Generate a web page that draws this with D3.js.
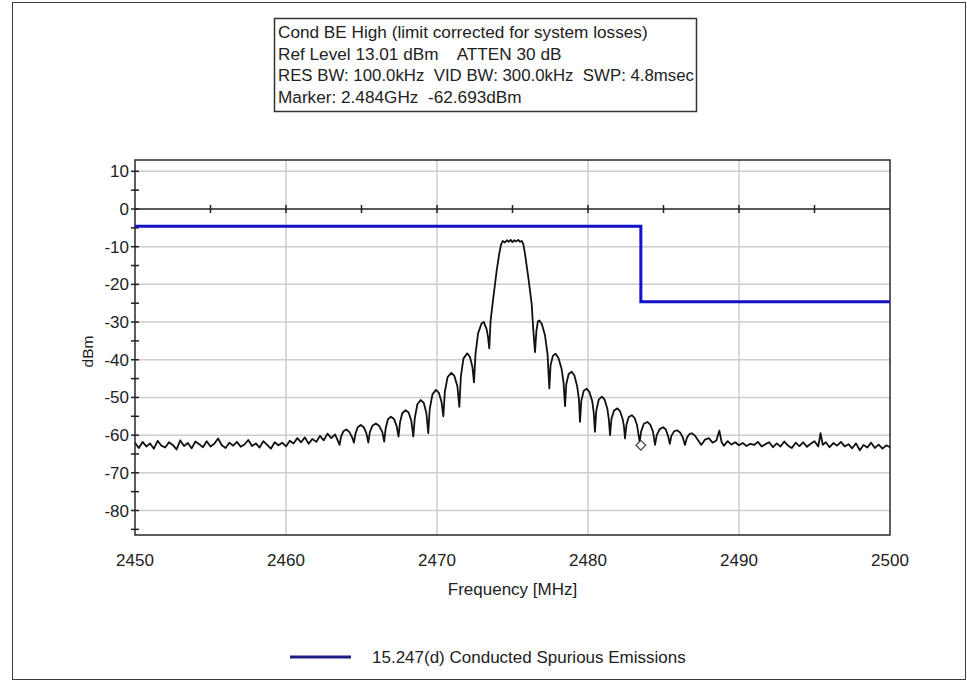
<!DOCTYPE html>
<html>
<head>
<meta charset="utf-8">
<script src="https://cdn.jsdelivr.net/npm/d3@7/dist/d3.min.js"></script>
<style>
  html, body { margin: 0; padding: 0; background: #fff; }
  svg { display: block; font-family: "Liberation Sans", Arial, sans-serif; }
</style>
</head>
<body>
<svg id="chart" width="967" height="685"></svg>
<script>
// Header block text
const infoLines = [
  "Cond BE High (limit corrected for system losses)",
  "Ref Level 13.01 dBm    ATTEN 30 dB",
  "RES BW: 100.0kHz  VID BW: 300.0kHz  SWP: 4.8msec",
  "Marker: 2.484GHz  -62.693dBm"
];

// Axis ticks
const xTicks = [2450, 2460, 2470, 2480, 2490, 2500];
const xMinorTicks = [2455, 2460, 2465, 2470, 2475, 2480, 2485, 2490, 2495];
const yTicks = [10, 0, -10, -20, -30, -40, -50, -60, -70, -80];
const yMinorTicks = [10, 5, 0, -5, -10, -15, -20, -25, -30, -35, -40, -45, -50, -55, -60, -65, -70, -75, -80, -85];

// Limit line: 15.247(d) conducted spurious emissions
const limitFreq = [2450, 2483.5, 2483.5, 2500];
const limitLevel = [-4.6, -4.6, -24.6, -24.6];
const limitName = "15.247(d) Conducted Spurious Emissions";

// Marker
const markerFreq = 2483.5;
const markerLevel = -62.693;

// Measured trace [MHz, dBm] — lower noise floor
const traceLowFloor = [
  [2450,-62.0],[2450.25,-63.4],[2450.5,-61.8],[2450.75,-63.0],[2451,-62.2],[2451.25,-63.6],
  [2451.5,-61.5],[2451.75,-62.8],[2452,-63.3],[2452.25,-61.9],[2452.5,-62.6],[2452.75,-63.8],
  [2453,-61.4],[2453.25,-62.9],[2453.5,-62.1],[2453.75,-63.5],[2454,-61.7],[2454.25,-62.4],
  [2454.5,-63.2],[2454.75,-61.6],[2455,-63.0],[2455.25,-62.3],[2455.5,-60.9],[2455.75,-62.7],
  [2456,-63.4],[2456.25,-62.0],[2456.5,-62.8],[2456.75,-61.8],[2457,-63.1],[2457.25,-62.5],
  [2457.5,-61.3],[2457.75,-62.9],[2458,-62.2],[2458.25,-63.3],[2458.5,-61.6],[2458.75,-62.6],
  [2459,-63.6],[2459.25,-61.9],[2459.5,-62.7],[2459.75,-62.0],[2460,-63.0],[2460.25,-61.5],
  [2460.5,-62.2],[2460.75,-60.8],[2461,-61.9],[2461.25,-60.6],[2461.5,-62.3],[2461.75,-61.0],
  [2462,-61.8],[2462.25,-60.2],[2462.5,-61.4],[2462.75,-59.6],[2463,-60.8],[2463.25,-59.8]
];

// Lower sidelobes
const traceLowLobes = [
  [2463.55,-62.6],
  [2463.65,-60.3],[2463.8,-59.0],[2464.0,-58.5],[2464.2,-59.2],[2464.38,-60.6],[2464.5,-62.0],
  [2464.6,-59.6],[2464.75,-57.9],[2464.95,-57.3],[2465.15,-57.9],[2465.33,-59.6],[2465.45,-62.0],
  [2465.55,-59.3],[2465.72,-57.5],[2465.95,-56.9],[2466.18,-57.6],[2466.38,-59.2],[2466.5,-61.7],
  [2466.6,-58.2],[2466.75,-55.8],[2466.95,-55.1],[2467.15,-55.7],[2467.33,-57.6],[2467.45,-60.4],
  [2467.55,-56.6],[2467.7,-54.2],[2467.92,-53.4],[2468.12,-54.0],[2468.3,-56.2],[2468.43,-60.4],
  [2468.53,-55.5],[2468.7,-51.8],[2468.92,-50.7],[2469.12,-51.4],[2469.3,-54.2],[2469.42,-59.5],
  [2469.52,-53.0],[2469.7,-49.2],[2469.93,-48.0],[2470.12,-48.7],[2470.3,-51.2],[2470.42,-55.0],
  [2470.52,-48.5],[2470.7,-44.6],[2470.95,-43.5],[2471.15,-44.3],[2471.35,-47.0],[2471.48,-52.5],
  [2471.58,-44.5],[2471.75,-39.7],[2472.0,-38.3],[2472.18,-39.2],[2472.35,-42.0],[2472.45,-46.0],
  [2472.55,-38.5],[2472.72,-33.0],[2472.95,-30.4],[2473.1,-30.0],[2473.28,-31.8],[2473.38,-34.0],[2473.46,-37.0]
];

// Main lobe
const traceMainLobe = [
  [2473.55,-29.6],[2473.73,-23.5],[2473.95,-16.4],[2474.12,-11.9],[2474.25,-9.3],[2474.35,-8.5],
  [2474.5,-8.9],[2474.62,-8.3],[2474.75,-8.7],[2474.88,-8.2],[2475.0,-8.8],[2475.12,-8.3],
  [2475.25,-8.6],[2475.38,-8.2],[2475.5,-8.7],[2475.62,-8.5],[2475.72,-9.4],[2475.83,-12.0],
  [2476.05,-18.2],[2476.27,-25.2],[2476.38,-32.2],[2476.49,-38.0]
];

// Upper sidelobes
const traceHighLobes = [
  [2476.58,-32.5],[2476.68,-29.8],[2476.78,-29.6],[2476.95,-30.6],[2477.15,-33.5],[2477.32,-38.5],[2477.44,-47.6],
  [2477.52,-41.5],[2477.68,-38.9],[2477.85,-38.4],[2478.05,-39.6],[2478.25,-42.4],[2478.38,-46.0],[2478.48,-52.3],
  [2478.56,-46.5],[2478.72,-43.8],[2478.92,-43.2],[2479.1,-44.2],[2479.28,-47.0],[2479.4,-50.5],[2479.47,-56.5],
  [2479.56,-50.8],[2479.72,-48.2],[2479.92,-47.7],[2480.1,-48.6],[2480.28,-51.0],[2480.38,-54.0],[2480.46,-59.1],
  [2480.55,-53.5],[2480.72,-50.5],[2480.92,-49.8],[2481.1,-50.6],[2481.28,-53.0],[2481.38,-55.8],[2481.46,-60.0],
  [2481.55,-55.8],[2481.72,-53.5],[2481.95,-52.9],[2482.12,-53.6],[2482.3,-55.8],[2482.38,-57.6],[2482.45,-60.9],
  [2482.55,-57.2],[2482.7,-55.2],[2482.9,-54.7],[2483.08,-55.4],[2483.25,-57.4],[2483.42,-61.8],
  [2483.52,-59.0],[2483.7,-57.0],[2483.93,-56.5],[2484.12,-57.2],[2484.3,-59.0],[2484.44,-62.6],
  [2484.55,-60.0],[2484.75,-58.4],[2484.98,-57.9],[2485.15,-58.5],[2485.3,-60.2],[2485.42,-62.3],
  [2485.52,-60.2],[2485.7,-59.0],[2485.9,-58.7],[2486.1,-59.3],[2486.28,-60.6],[2486.42,-62.6],
  [2486.55,-60.7],[2486.72,-59.7],[2486.88,-59.5],[2487.1,-60.2],[2487.3,-61.4],[2487.5,-62.6]
];

// Upper noise floor
const traceHighFloor = [
  [2487.75,-61.2],[2488,-60.8],[2488.25,-62.0],[2488.5,-61.4],[2488.7,-58.8],[2488.85,-61.9],
  [2489,-62.8],[2489.25,-61.6],[2489.5,-62.5],[2489.75,-61.9],[2490,-62.7],[2490.25,-62.1],
  [2490.5,-62.9],[2490.75,-62.3],[2491,-62.6],[2491.25,-61.8],[2491.5,-63.0],[2491.75,-62.4],
  [2492,-61.9],[2492.25,-63.2],[2492.5,-62.2],[2492.75,-63.0],[2493,-61.7],[2493.25,-62.8],
  [2493.5,-63.4],[2493.75,-62.0],[2494,-62.9],[2494.25,-61.9],[2494.5,-63.1],[2494.75,-62.3],
  [2495,-61.6],[2495.25,-63.0],[2495.4,-59.5],[2495.55,-62.6],[2495.75,-61.9],[2496,-63.2],
  [2496.25,-62.1],[2496.5,-62.8],[2496.75,-61.8],[2497,-63.0],[2497.25,-62.4],[2497.5,-63.5],
  [2497.75,-62.2],[2498,-64.0],[2498.25,-62.6],[2498.5,-63.3],[2498.75,-62.0],[2499,-63.4],
  [2499.25,-62.5],[2499.5,-63.6],[2499.75,-62.7],[2500,-63.2]
];

const trace = [].concat(traceLowFloor, traceLowLobes, traceMainLobe, traceHighLobes, traceHighFloor);

const FONT = '"Liberation Sans", Arial, sans-serif';
const svg = d3.select("#chart");

// Outer frame
svg.append("rect")
  .attr("x", 12.5).attr("y", 2.5).attr("width", 953).attr("height", 677)
  .attr("fill", "#fff").attr("stroke", "#3a3a3a").attr("stroke-width", 1);

// Plot area
const plot = { left: 135, right: 890, top: 160, bottom: 535 };
const x = d3.scaleLinear().domain([2450, 2500]).range([plot.left, plot.right]);
const y = d3.scaleLinear().domain([-86.5, 13]).range([plot.bottom, plot.top]);

// Grid
const grid = svg.append("g");
grid.selectAll("line.gx").data(xTicks.slice(1, -1)).enter().append("line")
  .attr("x1", d => x(d)).attr("x2", d => x(d))
  .attr("y1", plot.top).attr("y2", plot.bottom)
  .attr("stroke", "#cdcdcd").attr("stroke-width", 1.5);
grid.selectAll("line.gy").data(yTicks.filter(d => d !== 0)).enter().append("line")
  .attr("x1", plot.left).attr("x2", plot.right)
  .attr("y1", d => y(d)).attr("y2", d => y(d))
  .attr("stroke", "#cdcdcd").attr("stroke-width", 1.5);

// Zero line with 5 MHz ticks
svg.append("line")
  .attr("x1", plot.left).attr("x2", plot.right)
  .attr("y1", y(0)).attr("y2", y(0))
  .attr("stroke", "#222").attr("stroke-width", 1.5);
svg.selectAll("line.zt").data(xMinorTicks).enter().append("line")
  .attr("x1", d => x(d)).attr("x2", d => x(d))
  .attr("y1", y(0) - 4).attr("y2", y(0) + 4)
  .attr("stroke", "#222").attr("stroke-width", 1.5);

// Plot border
svg.append("rect")
  .attr("x", plot.left).attr("y", plot.top)
  .attr("width", plot.right - plot.left).attr("height", plot.bottom - plot.top)
  .attr("fill", "none").attr("stroke", "#2a2a2a").attr("stroke-width", 1.5);

// Y axis ticks crossing the left edge
svg.selectAll("line.yt").data(yMinorTicks).enter().append("line")
  .attr("x1", plot.left - 4).attr("x2", plot.left + 4)
  .attr("y1", d => y(d)).attr("y2", d => y(d))
  .attr("stroke", "#222").attr("stroke-width", 1.5);

// Y tick labels
svg.selectAll("text.yl").data(yTicks).enter().append("text")
  .attr("x", plot.left - 6).attr("y", d => y(d) + 6)
  .attr("text-anchor", "end")
  .attr("font-family", FONT).attr("font-size", 17).attr("fill", "#222")
  .text(d => d);

// X tick labels
svg.selectAll("text.xl").data(xTicks).enter().append("text")
  .attr("x", d => x(d)).attr("y", 566)
  .attr("text-anchor", "middle")
  .attr("font-family", FONT).attr("font-size", 17).attr("fill", "#222")
  .text(d => d);

// Axis titles
svg.append("text")
  .attr("x", (plot.left + plot.right) / 2).attr("y", 595)
  .attr("text-anchor", "middle")
  .attr("font-family", FONT).attr("font-size", 17).attr("fill", "#222")
  .text("Frequency [MHz]");
svg.append("text")
  .attr("transform", `translate(93, ${(plot.top + plot.bottom) / 2 + 4}) rotate(-90)`)
  .attr("text-anchor", "middle")
  .attr("font-family", FONT).attr("font-size", 15.5).attr("fill", "#222")
  .text("dBm");

// Clip to plot area
svg.append("clipPath").attr("id", "plotClip").append("rect")
  .attr("x", plot.left).attr("y", plot.top)
  .attr("width", plot.right - plot.left).attr("height", plot.bottom - plot.top);

const line = d3.line().x(d => x(d[0])).y(d => y(d[1]));

// Limit line
const limitData = limitFreq.map((f, i) => [f, limitLevel[i]]);
svg.append("path")
  .datum(limitData)
  .attr("clip-path", "url(#plotClip)")
  .attr("d", line)
  .attr("fill", "none").attr("stroke", "#1212c8").attr("stroke-width", 3);

// Spectrum trace
svg.append("path")
  .datum(trace)
  .attr("clip-path", "url(#plotClip)")
  .attr("d", line)
  .attr("fill", "none").attr("stroke", "#111").attr("stroke-width", 1.8)
  .attr("stroke-linejoin", "round");

// Marker diamond
svg.append("path")
  .attr("d", d3.symbol().type(d3.symbolDiamond2).size(60))
  .attr("transform", `translate(${x(markerFreq)}, ${y(markerLevel)})`)
  .attr("fill", "#fff").attr("stroke", "#444").attr("stroke-width", 1.2);

// Info box
svg.append("rect")
  .attr("x", 274.5).attr("y", 18.5).attr("width", 422).attr("height", 93)
  .attr("fill", "#fff").attr("stroke", "#333").attr("stroke-width", 1.5);
const infoText = svg.selectAll("text.info").data(infoLines).enter().append("text")
  .attr("x", 278).attr("y", (d, i) => 38 + i * 21.5)
  .attr("font-family", FONT).attr("font-size", 17.2).attr("fill", "#222")
  .attr("xml:space", "preserve").style("white-space", "pre")
  .text(d => d);
// keep the widest line inside the box
infoText.filter((d, i) => i === 2)
  .attr("textLength", 416).attr("lengthAdjust", "spacingAndGlyphs");

// Legend
svg.append("line")
  .attr("x1", 290).attr("x2", 351).attr("y1", 657).attr("y2", 657)
  .attr("stroke", "#1c1c84").attr("stroke-width", 3);
svg.append("text")
  .attr("x", 372).attr("y", 663)
  .attr("font-family", FONT).attr("font-size", 17).attr("fill", "#222")
  .text(limitName);
</script>
</body>
</html>
